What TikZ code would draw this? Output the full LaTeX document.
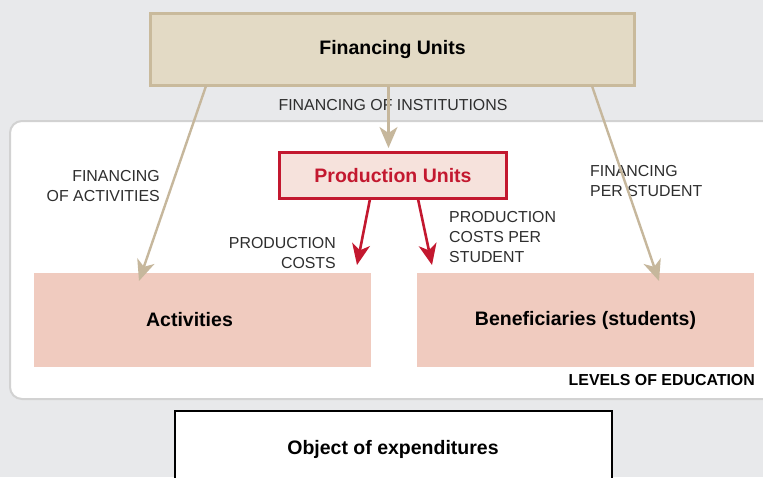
\documentclass[tikz,border=0pt]{standalone}
\usepackage{fontspec}
\setmainfont{Liberation Sans}
\usetikzlibrary{arrows.meta,calc}
\definecolor{bggray}{HTML}{E8E9EB}
\definecolor{tan}{HTML}{C6B79C}
\definecolor{tanfill}{HTML}{E3DAC5}
\definecolor{tanborder}{HTML}{C9BA9C}
\definecolor{panelborder}{HTML}{D2D2D2}
\definecolor{redc}{HTML}{C3182F}
\definecolor{prodfill}{HTML}{F6E2DC}
\definecolor{pinkfill}{HTML}{F0CBBF}
\definecolor{labelgray}{HTML}{2E2E2E}
\tikzset{
  bigtext/.style={font=\fontsize{19.5}{22}\selectfont\bfseries},
  lbl/.style={font=\fontsize{15.9}{20}\selectfont, text=labelgray, inner sep=0pt},
  tanarrow/.style={draw=tan, line width=2.4pt, -{Stealth[length=21pt,width=18pt,inset=6pt]}},
  redarrow/.style={draw=redc, line width=2.6pt, -{Stealth[length=21pt,width=18pt,inset=6pt]}},
  pinkbox/.style={fill=pinkfill, draw=none, minimum width=337pt, minimum height=94pt, inner sep=0pt, bigtext},
}
\begin{document}
\begin{tikzpicture}[x=1pt,y=-1pt]
\useasboundingbox (0,0) rectangle (763,477);
\clip (0,0) rectangle (763,477);
\fill[bggray] (0,0) rectangle (763,477);
% panel
\draw[panelborder, line width=2pt, fill=white, rounded corners=12pt] (10,121) rectangle (800,399);
% boxes
\node[fill=tanfill, draw=tanborder, line width=2.5pt, minimum width=484pt, minimum height=72pt, inner sep=0pt, bigtext] (fin) at (392.5,49.5) {Financing Units};
\node[fill=prodfill, draw=redc, line width=2.5pt, minimum width=227pt, minimum height=46pt, inner sep=0pt, bigtext, text=redc] (prod) at (393,175.5) {Production Units};
\node[pinkbox] (act) at (202.5,320) {Activities\hspace*{26pt}};
\node[pinkbox] (ben) at (585.5,320) {Beneficiaries (students)};
\node[font=\fontsize{15.9}{18}\selectfont\bfseries, anchor=east, inner sep=0pt] (lev) at (755,380) {LEVELS OF EDUCATION};
\node[fill=white, draw=black, line width=2pt, minimum width=437pt, minimum height=76pt, inner sep=0pt, bigtext] (obj) at (393,449) {Object of expenditures};
% labels
\node[lbl] (linst) at (393,105) {FINANCING OF INSTITUTIONS};
\node[lbl, align=right, anchor=north east] (lact) at (160,170) {FINANCING\\OF ACTIVITIES};
\node[lbl, align=right, anchor=north east] (lpc) at (336,237) {PRODUCTION\\COSTS};
\node[lbl, align=left, anchor=north west] (lpcs) at (449,211) {PRODUCTION\\COSTS PER\\STUDENT};
\node[lbl, align=left, anchor=north west] (lfs) at (590,165) {FINANCING\\PER STUDENT};
% coordinates
\coordinate (finL) at (206,86);
\coordinate (finR) at (592,86);
\coordinate (finM) at (388.5,86);
\coordinate (actTip) at (139,281);
\coordinate (benTip) at (659,281);
\coordinate (prodTop) at (388.5,148);
\coordinate (prodL) at (370,199);
\coordinate (prodR) at (418,199);
\coordinate (actC) at (357,265);
\coordinate (benC) at (432,265);
% arrows
\draw[tanarrow] (finL) -- (actTip);
\draw[tanarrow] (finR) -- (benTip);
\draw[tanarrow] (finM) -- (prodTop);
\draw[redarrow] (prodL) -- (actC);
\draw[redarrow] (prodR) -- (benC);
\end{tikzpicture}
\end{document}
